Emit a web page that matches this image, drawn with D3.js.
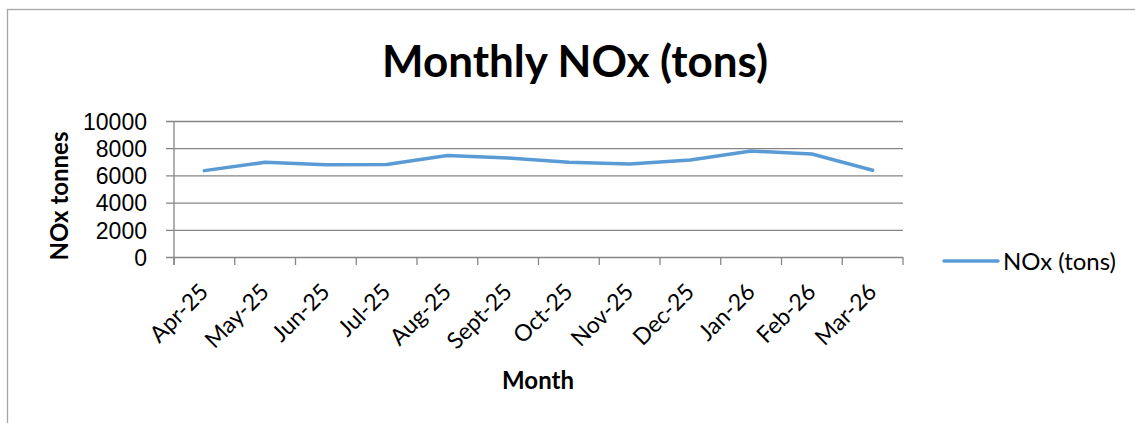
<!DOCTYPE html>
<html>
<head>
<meta charset="utf-8">
<script src="https://cdn.jsdelivr.net/npm/d3@7"></script>
<style>
  html, body { margin: 0; padding: 0; background: #fff; }
  svg { display: block; font-family: Lato, "Open Sans", sans-serif; }
</style>
</head>
<body>
<script>
// Monthly NOx values
const months = ["Apr-25", "May-25", "Jun-25", "Jul-25", "Aug-25", "Sept-25",
                "Oct-25", "Nov-25", "Dec-25", "Jan-26", "Feb-26", "Mar-26"];
const noxTons = [6350, 6960, 6790, 6800, 7470, 7280, 6960, 6840, 7130, 7790, 7570, 6380];
const yTicks = [0, 2000, 4000, 6000, 8000, 10000];
const seriesName = "NOx (tons)";

const width = 1135, height = 423;
const margin = { top: 121, right: 232, bottom: 166, left: 174 };
const plotWidth = width - margin.left - margin.right;
const plotHeight = height - margin.top - margin.bottom;

const svg = d3.select("body").append("svg")
    .attr("width", width)
    .attr("height", height);

// chart area border
svg.append("rect")
    .attr("x", 7.5).attr("y", 9.5)
    .attr("width", width).attr("height", height)
    .attr("fill", "none")
    .attr("stroke", "#a6a6a6")
    .attr("stroke-width", 1.3);

const x = d3.scaleBand().domain(months).range([0, plotWidth]);
const y = d3.scaleLinear().domain([0, 10000]).range([plotHeight, 0]);

const g = svg.append("g")
    .attr("transform", `translate(${margin.left},${margin.top})`);

// gridlines + y ticks
const yAxis = g.append("g")
    .call(d3.axisLeft(y).tickValues(yTicks).tickFormat(d3.format("d"))
        .tickSize(-plotWidth).tickSizeOuter(0).tickPadding(27));
yAxis.select(".domain").remove();
yAxis.selectAll(".tick line")
    .attr("x1", -8)
    .attr("stroke", "#868686")
    .attr("stroke-width", 1.3);
yAxis.selectAll(".tick text")
    .attr("fill", "#000")
    .style("font-size", "23px")
    .attr("dy", "0.36em");

// y axis line
g.append("line")
    .attr("x1", 0).attr("x2", 0)
    .attr("y1", 0).attr("y2", plotHeight + 8)
    .attr("stroke", "#868686").attr("stroke-width", 1.3);

// x axis ticks at category boundaries
const bounds = months.map(m => x(m)).concat([plotWidth]);
g.append("g").selectAll("line")
    .data(bounds)
    .join("line")
    .attr("x1", d => d).attr("x2", d => d)
    .attr("y1", plotHeight).attr("y2", plotHeight + 8)
    .attr("stroke", "#868686").attr("stroke-width", 1.3);

// x tick labels
g.append("g").selectAll("text")
    .data(months)
    .join("text")
    .attr("transform", d => `translate(${x(d) + x.bandwidth() / 2 - 6},${plotHeight + 25}) rotate(-45)`)
    .attr("text-anchor", "end")
    .attr("dy", "0.7em")
    .style("font-size", "23px")
    .attr("fill", "#000")
    .text(d => d);

// line
const line = d3.line()
    .x((d, i) => x(months[i]) + x.bandwidth() / 2)
    .y(d => y(d));

g.append("path")
    .datum(noxTons)
    .attr("d", line)
    .attr("fill", "none")
    .attr("stroke", "#5b9bd5")
    .attr("stroke-width", 3.5)
    .attr("stroke-linejoin", "round")
    .attr("stroke-linecap", "round");

// title
svg.append("text")
    .attr("x", 575).attr("y", 77)
    .attr("text-anchor", "middle")
    .style("font-size", "44px")
    .style("font-weight", "bold")
    .text("Monthly NOx (tons)");

// axis titles
svg.append("text")
    .attr("transform", "translate(68,196) rotate(-90)")
    .attr("text-anchor", "middle")
    .style("font-size", "24px")
    .style("font-weight", "bold")
    .text("NOx tonnes");

svg.append("text")
    .attr("x", 538).attr("y", 389)
    .attr("text-anchor", "middle")
    .style("font-size", "24px")
    .style("font-weight", "bold")
    .text("Month");

// legend
const legend = svg.append("g").attr("transform", "translate(944,261)");
legend.append("line")
    .attr("x1", 0).attr("x2", 54)
    .attr("stroke", "#5b9bd5")
    .attr("stroke-width", 3.5)
    .attr("stroke-linecap", "round");
legend.append("text")
    .attr("x", 59)
    .attr("dy", "0.36em")
    .style("font-size", "24px")
    .text(seriesName);
</script>
</body>
</html>
